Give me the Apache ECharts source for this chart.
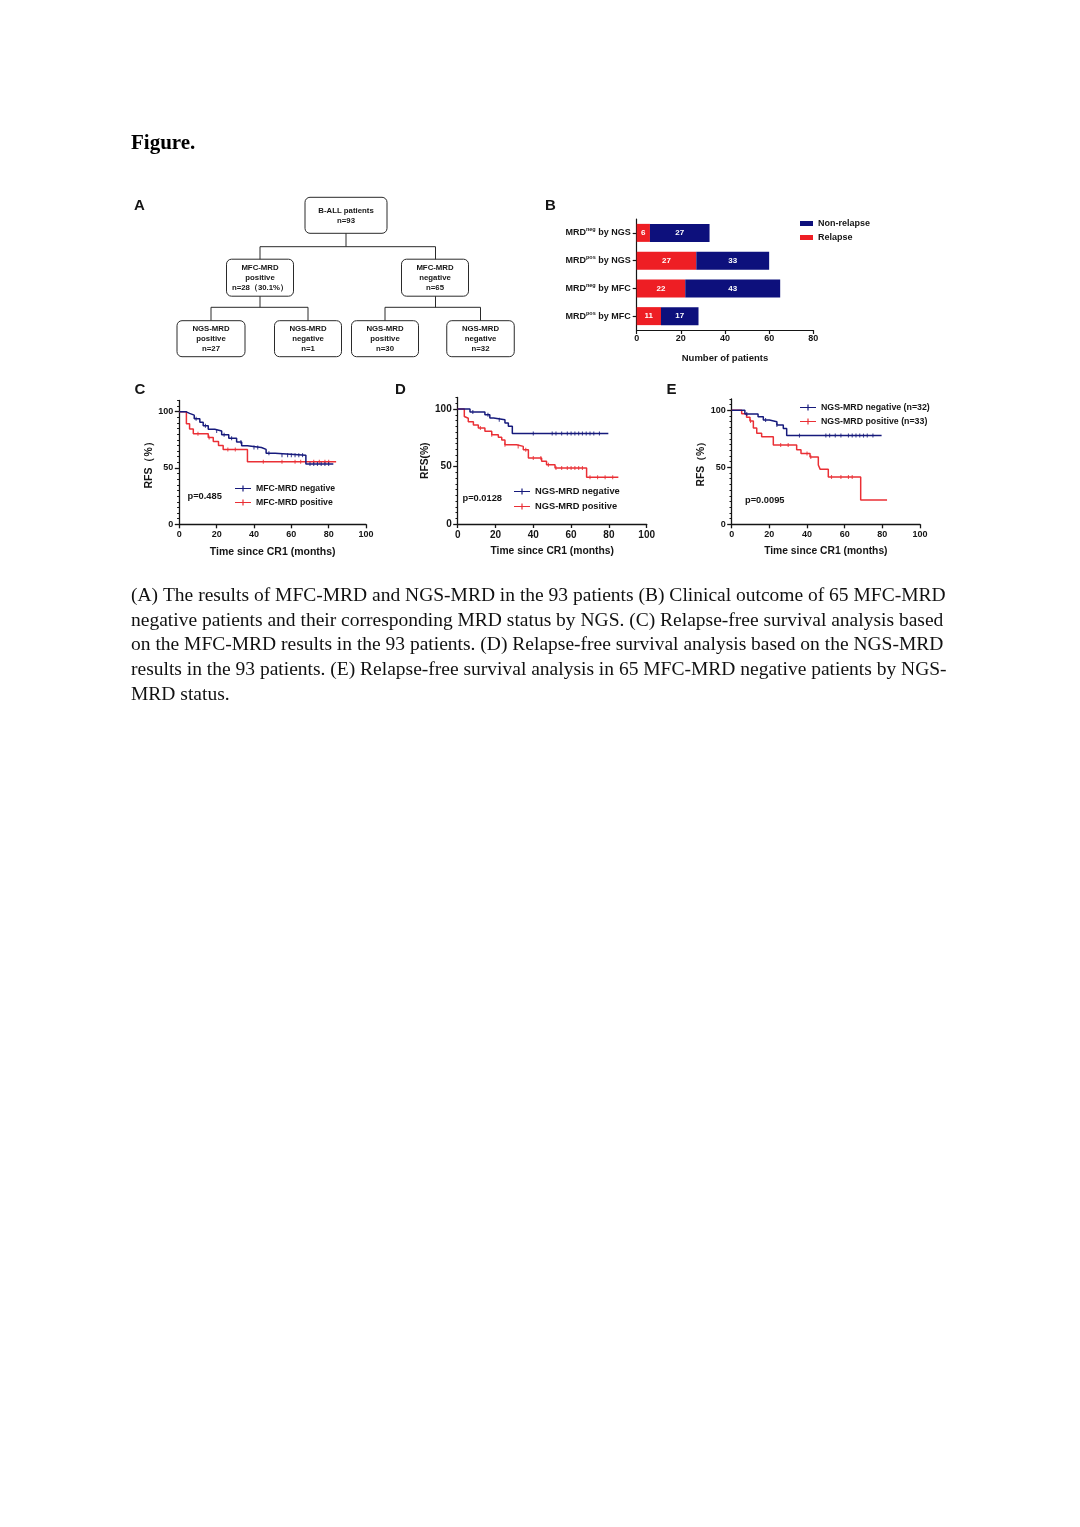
<!DOCTYPE html>
<html><head><meta charset="utf-8">
<script src="https://cdn.jsdelivr.net/npm/echarts@6/dist/echarts.min.js"></script>
<style>html,body{margin:0;padding:0;background:#fff}#c{width:1080px;height:1527px}</style>
</head><body><div id="c"></div>
<script>
// ---------------- DATA ----------------
const barCategories = ['MRDneg by NGS', 'MRDpos by NGS', 'MRDneg by MFC', 'MRDpos by MFC'];
const relapseCounts = [6, 27, 22, 11];
const nonRelapseCounts = [27, 33, 43, 17];
const barTicks = [0, 20, 40, 60, 80];

// Kaplan-Meier curves: [month, RFS %]
const kmC_neg = [[0,100],[3.5,98.5],[5.5,96.9],[8,93.8],[11,90.7],[12.8,87.6],[15.5,84.4],[19,82.8],[22.7,79.6],[26.5,76.3],[30.7,73.1],[33.4,69.8],[36.5,68.2],[44,66.5],[46.5,63.1],[51.3,61.4],[67.8,53.6],[82.5,53.6]];
const kmC_pos = [[0,100],[3.8,89.3],[5.5,84.5],[7.5,80.5],[15.5,77],[18.2,73.5],[21,70],[23.5,66.5],[36.5,55.5],[84,55.5]];
const kmD_neg = [[0,100],[6.5,97.4],[14.4,95],[17,92.1],[19,90.6],[25,87.8],[26.8,85],[28.9,78.6],[79.7,78.6]];
const kmD_pos = [[0,100],[3.5,93.5],[3.9,92],[5.6,89],[8.3,86],[10.9,83.5],[14.4,80.6],[18,77.7],[21.5,75.4],[23.3,73],[25,69],[31.2,67.5],[34.7,64.6],[37.4,57.4],[44.4,54.5],[47,51.6],[51.5,48.7],[68.2,40.6],[85,40.6]];
const kmE_neg = [[0,100],[7,96.8],[14,94.4],[16.8,91.5],[20,90],[24,87],[27.4,84],[29.2,77.8],[79.6,77.8]];
const kmE_pos = [[0,100],[5.3,96.9],[7.9,93.8],[9.7,90.6],[11.5,84.4],[13.3,79.8],[15.9,76.9],[22.1,69.6],[34.5,65.5],[36.8,62],[41.6,59],[46,52],[47,48.2],[51.3,41.5],[68.5,21.3],[82.5,21.3]];

// censoring times (months)
const censC_neg = [9,14,20,24,28,33,40,42,48,55,58,60,62,64,66,70,72,74,76,78,80];
const censC_pos = [10,16,26,30,45,55,62,65,72,75,78,80];
const censD_neg = [8,16,22,40,50,52,55,58,60,62,64,66,68,70,72,75];
const censD_pos = [12,18,25,32,36,40,44,48,52,55,58,60,62,64,66,70,74,78,82];
const censE_neg = [8,18,24,36,50,52,55,58,62,64,66,68,70,72,75];
const censE_pos = [10,26,30,40,42,53,58,62,64];

const rfsTicks = [0, 50, 100];
const timeTicks = [0, 20, 40, 60, 80, 100];

const pValues = ['p=0.485', 'p=0.0128', 'p=0.0095'];

const flowBoxes = [
  'B-ALL patients\nn=93',
  'MFC-MRD\npositive\nn=28（30.1%）',
  'MFC-MRD\nnegative\nn=65',
  'NGS-MRD\npositive\nn=27',
  'NGS-MRD\nnegative\nn=1',
  'NGS-MRD\npositive\nn=30',
  'NGS-MRD\nnegative\nn=32'
];

const captionLines = [
  '(A) The results of MFC-MRD and NGS-MRD in the 93 patients (B) Clinical outcome of 65 MFC-MRD',
  'negative patients and their corresponding MRD status by NGS. (C) Relapse-free survival analysis based',
  'on the MFC-MRD results in the 93 patients. (D) Relapse-free survival analysis based on the NGS-MRD',
  'results in the 93 patients. (E) Relapse-free survival analysis in 65 MFC-MRD negative patients by NGS-',
  'MRD status.'
];

// ---------------- STYLE ----------------
const F = 'Liberation Sans, Arial, sans-serif';
const SERIF = 'Liberation Serif, Times New Roman, serif';
const BLK = '#151515';
const NAVY = '#161a7c';
const RED = '#ea2f35';
const BAR_NAVY = '#0d107c';
const BAR_RED = '#ee1e24';

function stepAt(curve, t) {
  let v = curve[0][1];
  for (const p of curve) { if (p[0] <= t) v = p[1]; }
  return v;
}

const chart = echarts.init(document.getElementById('c'), null, {width: 1080, height: 1527});

const kmGrids = [
  {left: 179.3, top: 400.4, width: 186.7, height: 123.9},
  {left: 457.7, top: 397.5, width: 189, height: 126.5},
  {left: 731.7, top: 398.9, width: 188.3, height: 125.4}
];
const kmCfg = [
  {tick: 9, name: 10.5, yname: 'RFS（%）', nameGapY: 24},
  {tick: 10, name: 10.3, yname: 'RFS(%)', nameGapY: 28},
  {tick: 9, name: 10.3, yname: 'RFS（%）', nameGapY: 26}
];

const grids = [{left: 636.7, top: 219, width: 176.6, height: 111}].concat(kmGrids);

const xAxes = [{
  type: 'value', gridIndex: 0, min: 0, max: 80, interval: 20, position: 'bottom',
  axisLine: {show: true, lineStyle: {color: BLK, width: 1.2}},
  axisTick: {show: true, length: 4, lineStyle: {color: BLK, width: 1.2}, customValues: barTicks},
  axisLabel: {color: BLK, fontSize: 9, fontWeight: 'bold', fontFamily: F, margin: 4, customValues: barTicks},
  splitLine: {show: false},
  name: 'Number of patients', nameLocation: 'middle', nameGap: 23,
  nameTextStyle: {color: BLK, fontSize: 9.5, fontWeight: 'bold', fontFamily: F}
}];
const yAxes = [{
  type: 'category', gridIndex: 0, data: barCategories, inverse: true, position: 'left',
  axisLine: {show: true, lineStyle: {color: BLK, width: 1.2}},
  axisTick: {show: true, length: 4, alignWithLabel: true, lineStyle: {color: BLK, width: 1.2}},
  axisLabel: {
    margin: 6,
    formatter: v => v.replace(/^MRD(neg|pos)(.*)$/, '{m|MRD}{s|$1}{m|$2}'),
    rich: {
      m: {color: BLK, fontSize: 9, fontWeight: 'bold', fontFamily: F, lineHeight: 12, verticalAlign: 'middle'},
      s: {color: BLK, fontSize: 5.5, fontWeight: 'bold', fontFamily: F, lineHeight: 7, verticalAlign: 'top'}
    }
  }
}];

kmGrids.forEach((g, i) => {
  const gi = i + 1;
  const c = kmCfg[i];
  xAxes.push({
    type: 'value', gridIndex: gi, min: 0, max: 100, interval: 20, position: 'bottom',
    axisLine: {show: true, lineStyle: {color: BLK, width: 1.3}},
    axisTick: {show: true, length: 4, lineStyle: {color: BLK, width: 1.3}},
    axisLabel: {color: BLK, fontSize: c.tick, fontWeight: 'bold', fontFamily: F, margin: 6},
    splitLine: {show: false},
    name: 'Time since CR1 (months)', nameLocation: 'middle', nameGap: 22,
    nameTextStyle: {color: BLK, fontSize: c.name, fontWeight: 'bold', fontFamily: F}
  });
  // minor-tick axis (series are plotted on this one)
  yAxes.push({
    type: 'value', gridIndex: gi, min: 0, max: 110, interval: 5, position: 'left', offset: 0,
    axisLine: {show: true, lineStyle: {color: BLK, width: 1.3}},
    axisTick: {show: true, length: 2.2, lineStyle: {color: BLK, width: 1}},
    axisLabel: {show: false}, splitLine: {show: false}
  });
  // major ticks + labels
  yAxes.push({
    type: 'value', gridIndex: gi, min: 0, max: 110, interval: 50, position: 'left', offset: 0,
    axisLine: {show: false},
    axisTick: {show: true, length: 4.5, lineStyle: {color: BLK, width: 1.3}, customValues: rfsTicks},
    axisLabel: {color: BLK, fontSize: c.tick, fontWeight: 'bold', fontFamily: F, margin: 6, customValues: rfsTicks},
    splitLine: {show: false},
    name: c.yname, nameLocation: 'middle', nameGap: c.nameGapY,
    nameTextStyle: {color: BLK, fontSize: c.name, fontWeight: 'bold', fontFamily: F}
  });
});

const series = [
  {
    name: 'Relapse', type: 'bar', stack: 'b', xAxisIndex: 0, yAxisIndex: 0, barWidth: 18,
    data: relapseCounts, itemStyle: {color: BAR_RED},
    label: {show: true, position: 'inside', color: '#fff', fontSize: 8, fontWeight: 'bold', fontFamily: F}
  },
  {
    name: 'Non-relapse', type: 'bar', stack: 'b', xAxisIndex: 0, yAxisIndex: 0, barWidth: 18,
    data: nonRelapseCounts, itemStyle: {color: BAR_NAVY},
    label: {show: true, position: 'inside', color: '#fff', fontSize: 8, fontWeight: 'bold', fontFamily: F}
  }
];

const kmSets = [
  [['MFC-MRD negative', kmC_neg, censC_neg, NAVY], ['MFC-MRD positive', kmC_pos, censC_pos, RED]],
  [['NGS-MRD negative', kmD_neg, censD_neg, NAVY], ['NGS-MRD positive', kmD_pos, censD_pos, RED]],
  [['NGS-MRD negative (n=32)', kmE_neg, censE_neg, NAVY], ['NGS-MRD positive (n=33)', kmE_pos, censE_pos, RED]]
];
kmSets.forEach((set, i) => {
  const xi = i + 1, yi = 1 + i * 2;
  set.forEach(([name, curve, cens, col], k) => {
    series.push({
      name, type: 'line', step: 'end', xAxisIndex: xi, yAxisIndex: yi,
      data: curve, showSymbol: false, symbol: 'none', z: k === 0 ? 4 : 3,
      lineStyle: {color: col, width: 1.5}, itemStyle: {color: col}, animation: false
    });
    series.push({
      name: name + ' censored', type: 'scatter', xAxisIndex: xi, yAxisIndex: yi,
      data: cens.map(t => [t, stepAt(curve, t)]),
      symbol: 'rect', symbolSize: [1.1, 4], itemStyle: {color: col}, z: k === 0 ? 4 : 3,
      silent: true, animation: false
    });
  });
});

const legIcon = 'path://M0,2.5H16V3.6H0Z M7.4,0H8.6V6H7.4Z';
const legText = s => ({color: BLK, fontSize: s, fontWeight: 'bold', fontFamily: F});
const legends = [
  {data: ['Non-relapse', 'Relapse'], orient: 'vertical', left: 795, top: 214, itemWidth: 13, itemHeight: 5,
   itemGap: 5, icon: 'rect', textStyle: legText(9), selectedMode: false},
  {data: ['MFC-MRD negative', 'MFC-MRD positive'], orient: 'vertical', left: 230, top: 479, itemWidth: 16, itemHeight: 6,
   itemGap: 5, icon: legIcon, textStyle: legText(8.7), selectedMode: false},
  {data: ['NGS-MRD negative', 'NGS-MRD positive'], orient: 'vertical', left: 509, top: 482, itemWidth: 16, itemHeight: 6,
   itemGap: 6, icon: legIcon, textStyle: legText(9.3), selectedMode: false},
  {data: ['NGS-MRD negative (n=32)', 'NGS-MRD positive (n=33)'], orient: 'vertical', left: 795, top: 398, itemWidth: 16, itemHeight: 6,
   itemGap: 5, icon: legIcon, textStyle: legText(8.8), selectedMode: false}
];

// ---------------- GRAPHIC (flowchart, letters, captions) ----------------
const G = [];
const boxGeom = [
  [346, 215.3, 82, 36], [260, 277.7, 67, 37], [435, 277.7, 67, 37],
  [211, 338.7, 68, 36], [308, 338.7, 67, 36], [385, 338.7, 67, 36], [480.5, 338.7, 67.5, 36]
];
flowBoxes.forEach((t, i) => {
  const [cx, cy, w, h] = boxGeom[i];
  G.push({type: 'rect', shape: {x: cx - w / 2, y: cy - h / 2, width: w, height: h, r: 5},
    style: {fill: '#fff', stroke: '#2a2a2a', lineWidth: 1}});
  G.push({type: 'text', x: cx, y: cy + 0.5, style: {text: t, align: 'center', verticalAlign: 'middle',
    font: 'bold 7.8px ' + F, fill: BLK, lineHeight: 10}});
});
const lines = [
  [[346, 233.3], [346, 246.7]],
  [[260, 259.3], [260, 246.7], [435.5, 246.7], [435.5, 259.3]],
  [[260, 296.2], [260, 307.3]],
  [[211, 320.7], [211, 307.3], [308, 307.3], [308, 320.7]],
  [[435.5, 296.2], [435.5, 307.3]],
  [[385, 320.7], [385, 307.3], [480.5, 307.3], [480.5, 320.7]]
];
lines.forEach(pts => G.push({type: 'polyline', shape: {points: pts}, style: {stroke: '#2a2a2a', lineWidth: 1, fill: null}}));

const letters = [['A', 134, 205.5], ['B', 545, 205.5], ['C', 134.5, 390], ['D', 395, 390], ['E', 666.5, 390]];
letters.forEach(([t, x, y]) => G.push({type: 'text', x, y, style: {text: t, font: 'bold 15px ' + F, fill: BLK, verticalAlign: 'middle'}}));

G.push({type: 'text', x: 131, y: 144, style: {text: 'Figure.', font: 'bold 21px ' + SERIF, fill: '#000', verticalAlign: 'middle'}});

const pPos = [[187.5, 496], [462.5, 498], [745, 500]];
pValues.forEach((t, i) => G.push({type: 'text', x: pPos[i][0], y: pPos[i][1], style: {text: t, font: 'bold 9.3px ' + F, fill: BLK, verticalAlign: 'middle'}}));

captionLines.forEach((t, i) => G.push({type: 'text', x: 131, y: 596 + i * 24.6,
  style: {text: t, font: '19.5px ' + SERIF, fill: '#111', verticalAlign: 'middle'}}));

chart.setOption({
  backgroundColor: '#ffffff',
  animation: false,
  grid: grids,
  xAxis: xAxes,
  yAxis: yAxes,
  legend: legends,
  series,
  graphic: G
});
</script>
</body></html>
